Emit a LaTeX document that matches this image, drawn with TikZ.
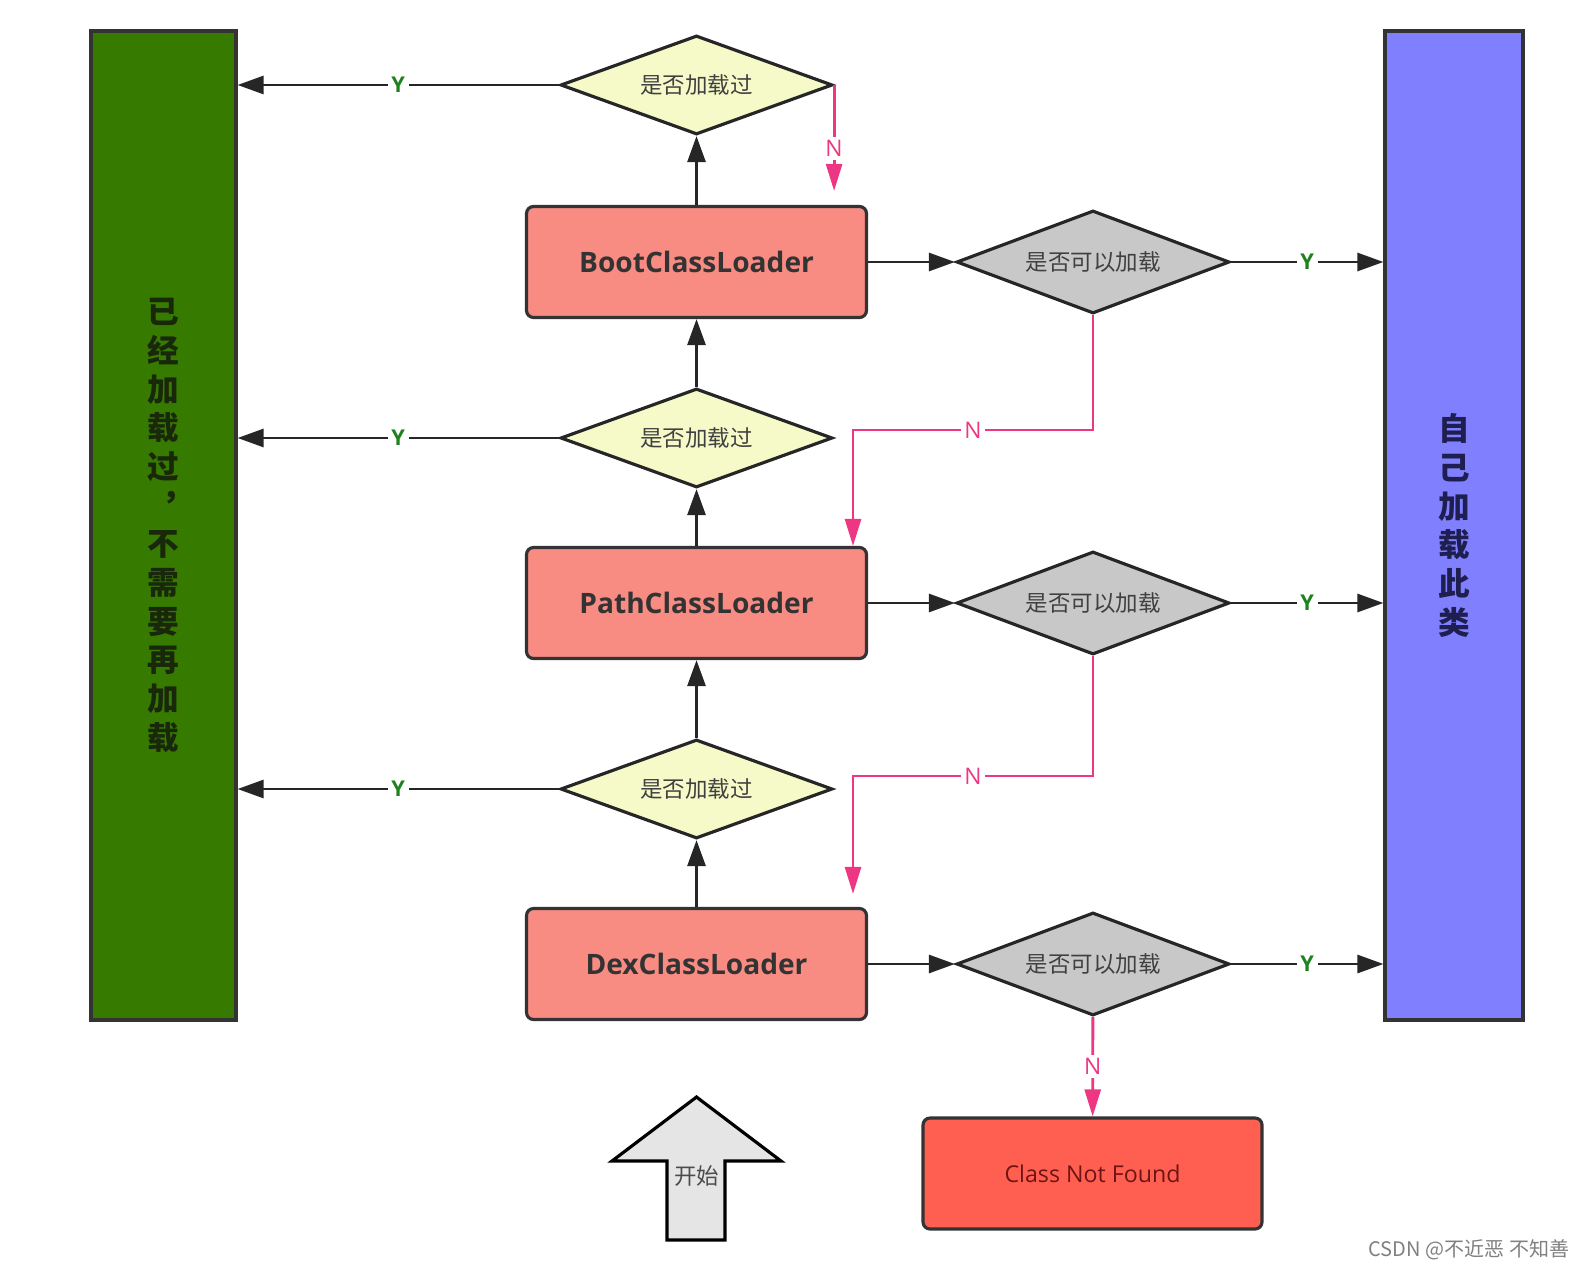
\documentclass[tikz,border=0pt]{standalone}
\usepackage{fontspec}
\setmainfont{Open Sans}
\newfontfamily\cjk{Noto Sans CJK SC}
\usepackage{xcolor}
\usetikzlibrary{shapes,arrows.meta,positioning}

\definecolor{loadedgreen}{RGB}{54,122,0}
\definecolor{selfblue}{RGB}{128,128,255}
\definecolor{askyellow}{RGB}{246,250,200}
\definecolor{askgray}{RGB}{200,200,200}
\definecolor{loaderred}{RGB}{248,140,130}
\definecolor{notfoundred}{RGB}{255,95,80}
\definecolor{nopink}{RGB}{238,55,130}
\definecolor{yesgreen}{RGB}{30,130,30}

\begin{document}
\begin{tikzpicture}[
    box/.style={draw=black!80, line width=0.9pt, rectangle, rounded corners=2pt, minimum width=3.4cm, minimum height=1.11cm, fill=loaderred, text=black!80, font=\fontsize{8.0}{9}\selectfont\bfseries},
    loaded/.style={diamond, aspect=2.7, draw=black!85, line width=0.9pt, fill=askyellow, minimum width=2.72cm, minimum height=0.99cm, inner sep=0pt, text=black!75, font=\cjk\fontsize{6.4}{7}\selectfont},
    canload/.style={loaded, fill=askgray, minimum width=2.73cm, minimum height=1.03cm},
    side/.style={draw=black!80, line width=0.9pt, rectangle, minimum height=9.89cm, align=center, font=\cjk\bfseries\fontsize{9}{11}\selectfont},
    go/.style={-{Triangle[length=0.26cm,width=0.18cm]}, line width=0.8pt, draw=black!85},
    yes/.style={text=yesgreen, fill=white, font=\fontsize{6.2}{7}\selectfont\bfseries, inner sep=1pt},
    no/.style={-{Triangle[length=0.27cm,width=0.16cm]}, line width=0.8pt, draw=nopink},
    nolabel/.style={text=nopink, fill=white, font=\fontsize{6.5}{7}\selectfont, inner sep=1pt}
]
    \useasboundingbox (0,0) rectangle (15.86,-12.68);

    \node[side, fill=loadedgreen, text={rgb,255:red,25;green,40;blue,10}, minimum width=1.45cm] (loaded) at (1.635,-5.255) {已\\经\\加\\载\\过\\︐\\不\\需\\要\\再\\加\\载};
    \node[side, fill=selfblue, text={rgb,255:red,30;green,30;blue,80}, minimum width=1.38cm] (self) at (14.54,-5.255) {自\\己\\加\\载\\此\\类};

    \node[box] (boot) at (6.965,-2.62) {BootClassLoader};
    \node[box] (path) at (6.965,-6.03) {PathClassLoader};
    \node[box] (dex) at (6.965,-9.64) {DexClassLoader};

    \node[loaded] (ask1) at (6.965,-0.85) {是否加载过};
    \node[loaded] (ask2) at (6.965,-4.38) {是否加载过};
    \node[loaded] (ask3) at (6.965,-7.89) {是否加载过};

    \node[canload] (can1) at (10.93,-2.62) {是否可以加载};
    \node[canload] (can2) at (10.93,-6.03) {是否可以加载};
    \node[canload] (can3) at (10.93,-9.64) {是否可以加载};

    \node[box, fill=notfoundred, minimum width=3.39cm, text={rgb,255:red,110;green,20;blue,20}, font=\fontsize{6.6}{8}\selectfont] (notfound) at (10.925,-11.735) {Class Not Found};

    \draw[fill=black!10, line width=0.9pt] (6.965,-10.97) -- (7.81,-11.61) -- (7.25,-11.61) -- (7.25,-12.40) -- (6.67,-12.40) -- (6.67,-11.61) -- (6.12,-11.61) -- cycle;
    \node[text=black!70, font=\cjk\fontsize{6.4}{7}\selectfont] (start) at (6.965,-11.76) {开始};

    \draw[go] (boot) -- (ask1);
    \draw[go] (ask2) -- (boot);
    \draw[go] (path) -- (ask2);
    \draw[go] (ask3) -- (path);
    \draw[go] (dex) -- (ask3);

    \draw[go] (ask1) -- node[yes] {Y} (ask1 -| loaded.east);
    \draw[go] (ask2) -- node[yes] {Y} (ask2 -| loaded.east);
    \draw[go] (ask3) -- node[yes] {Y} (ask3 -| loaded.east);

    \draw[go] (boot) -- (can1);
    \draw[go] (path) -- (can2);
    \draw[go] (dex) -- (can3);

    \draw[go] (can1) -- node[yes] {Y} (can1 -| self.west);
    \draw[go] (can2) -- node[yes] {Y} (can2 -| self.west);
    \draw[go] (can3) -- node[yes] {Y} (can3 -| self.west);

    \coordinate (turn1) at (8.53,-4.30);
    \coordinate (turn2) at (8.53,-7.76);
    \draw[no, shorten >=0.14cm] (ask1.east) -- node[nolabel, pos=0.53] {N} (ask1.east |- boot.north);
    \draw[no] (can1.south) |- node[nolabel, pos=0.75] {N} (turn1) -- (turn1 |- path.north);
    \draw[no, shorten >=0.13cm] (can2.south) |- node[nolabel, pos=0.75] {N} (turn2) -- (turn2 |- dex.north);
    \draw[no] (can3) -- node[nolabel] {N} (notfound);

    \node[text=black!50, font=\cjk\fontsize{5.7}{7}\selectfont, anchor=east, inner sep=0pt] (mark) at (15.70,-12.50) {CSDN @不近恶 不知善};
\end{tikzpicture}
\end{document}
